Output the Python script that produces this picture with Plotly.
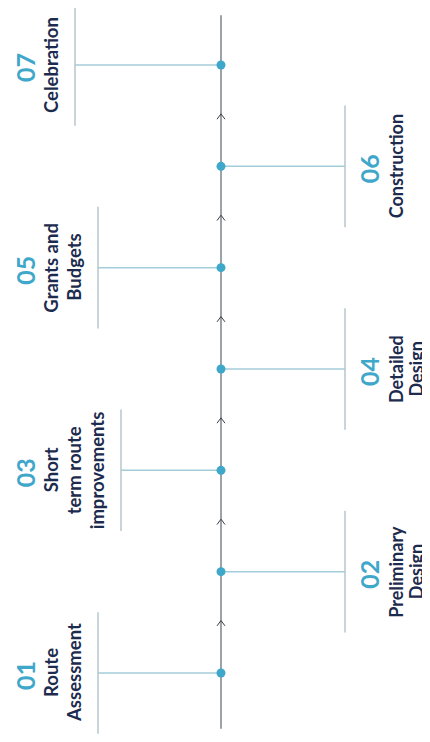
import plotly.graph_objects as go

# ---- data ----
steps = ["01", "02", "03", "04", "05", "06", "07"]
label_lines = [
    ["Route", "Assessment"],
    ["Preliminary", "Design"],
    ["Short", "term route", "improvements"],
    ["Detailed", "Design"],
    ["Grants and", "Budgets"],
    ["Construction"],
    ["Celebration"],
]

# ---- layout constants (page-pixel x units, step-index y units) ----
PAGE_W, PAGE_H = 430, 742
PAGE_OFFSET = 8          # browser body margin (px)
W, H = PAGE_W - PAGE_OFFSET, PAGE_H - 2 * PAGE_OFFSET
PX_PER_STEP = 101.33
X_RANGE = [PAGE_OFFSET, PAGE_W]
Y_TOP = 7 + (65 - PAGE_OFFSET) / PX_PER_STEP
Y_RANGE = [Y_TOP - H / PX_PER_STEP, Y_TOP]
SPINE_X = 221
SPINE_PAD = 0.45
BRACKET_HALF = 0.6
RIGHT_BRACKET_X = 345
LEFT_BRACKET_BASE = 52
LINE_PITCH = 23
RIGHT_LINE_PITCH = 19.5
NUM_X_LEFT, NUM_X_RIGHT = 25, 369
LABEL_X_LEFT, LABEL_X_RIGHT = 51, 396
CHEV_W, CHEV_H = 4, 0.035

TEAL = "#3fa7ca"
NAVY = "#1c2b4e"
SPINE = "#9aa3aa"
BRANCH = "#a3ccd9"
BRACKET = "#b7c6cc"

n = len(steps)
pos = list(range(1, n + 1))
sides = ["left" if i % 2 == 0 else "right" for i in range(n)]

fig = go.Figure()

# spine
fig.add_trace(go.Scatter(x=[SPINE_X, SPINE_X], y=[pos[0] - SPINE_PAD - 0.1, pos[-1] + SPINE_PAD + 0.04],
                         mode="lines", line=dict(color=SPINE, width=2), hoverinfo="skip"))

# branches and brackets
bx, by, kx, ky = [], [], [], []
for p, side, lines in zip(pos, sides, label_lines):
    if side == "left":
        xb = LEFT_BRACKET_BASE + LINE_PITCH * len(lines)
    else:
        xb = RIGHT_BRACKET_X
    bx += [SPINE_X, xb, None]
    by += [p, p, None]
    kx += [xb, xb, None]
    ky += [p - BRACKET_HALF, p + BRACKET_HALF, None]
fig.add_trace(go.Scatter(x=bx, y=by, mode="lines", line=dict(color=BRANCH, width=1.5), hoverinfo="skip"))
fig.add_trace(go.Scatter(x=kx, y=ky, mode="lines", line=dict(color=BRACKET, width=1.5), hoverinfo="skip"))

# chevrons between steps
cx, cy = [], []
for a, b in zip(pos[:-1], pos[1:]):
    m = (a + b) / 2
    cx += [SPINE_X - CHEV_W, SPINE_X, SPINE_X + CHEV_W, None]
    cy += [m - CHEV_H, m + CHEV_H * 0.5, m - CHEV_H, None]
fig.add_trace(go.Scatter(x=cx, y=cy, mode="lines", line=dict(color="#3a3f45", width=1), hoverinfo="skip"))

# dots
fig.add_trace(go.Scatter(x=[SPINE_X] * n, y=pos, mode="markers",
                         marker=dict(color=TEAL, size=9), hoverinfo="skip"))

# text
annotations = []
for p, side, num, lines in zip(pos, sides, steps, label_lines):
    nx = NUM_X_LEFT if side == "left" else NUM_X_RIGHT
    lx = LABEL_X_LEFT if side == "left" else LABEL_X_RIGHT
    pitch = LINE_PITCH if side == "left" else RIGHT_LINE_PITCH
    fsize = 18.5 if side == "left" else 18
    annotations.append(dict(x=nx, y=p - 0.03, text=num, textangle=-90, showarrow=False,
                            xanchor="center", yanchor="middle",
                            font=dict(family="Lato", size=25, color=TEAL, weight="bold")))
    for k, line in enumerate(lines):
        annotations.append(dict(x=lx + k * pitch, y=p, text=line, textangle=-90, showarrow=False,
                                xanchor="center", yanchor="middle",
                                font=dict(family="Lato", size=fsize, color=NAVY, weight="bold")))

fig.update_layout(
    width=W, height=H, margin=dict(l=0, r=0, t=0, b=0),
    paper_bgcolor="white", plot_bgcolor="white", showlegend=False,
    xaxis=dict(range=X_RANGE, visible=False, fixedrange=True),
    yaxis=dict(range=Y_RANGE, visible=False, fixedrange=True),
    annotations=annotations,
)

fig.write_html("out.html")
